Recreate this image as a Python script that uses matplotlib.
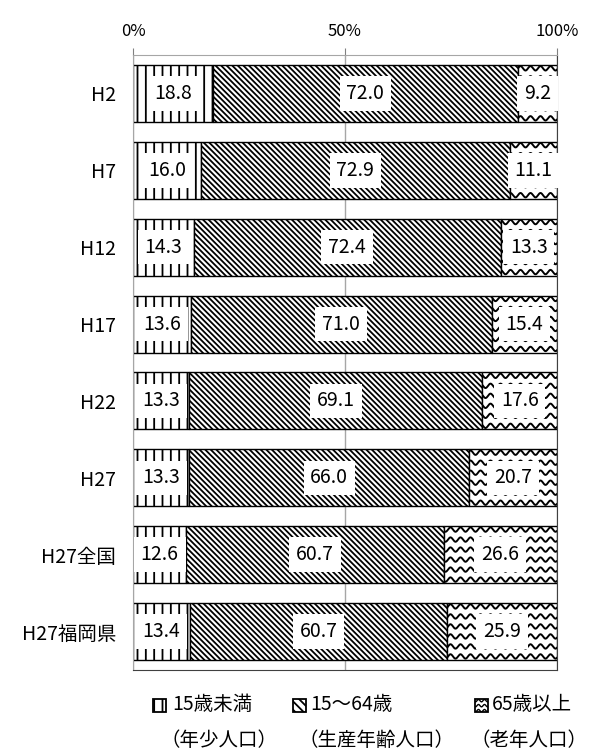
import numpy as np
import matplotlib
matplotlib.use("Agg")
import matplotlib.pyplot as plt
from matplotlib.patches import Rectangle

plt.rcParams['font.family'] = ['Noto Sans CJK JP', 'DejaVu Sans']
plt.rcParams['hatch.linewidth'] = 1.3
plt.rcParams['hatch.color'] = 'black'

# -------------------------------------------------
# DATA
# -------------------------------------------------

years = ["H2", "H7", "H12", "H17", "H22", "H27", "H27全国", "H27福岡県"]
young = [18.8, 16.0, 14.3, 13.6, 13.3, 13.3, 12.6, 13.4]
working = [72.0, 72.9, 72.4, 71.0, 69.1, 66.0, 60.7, 60.7]
elderly = [9.2, 11.1, 13.3, 15.4, 17.6, 20.7, 26.6, 25.9]

x_ticks = [0, 50, 100]
x_tick_labels = ["0%", "50%", "100%"]

legend_line1 = ["15歳未満", "15～64歳", "65歳以上"]
legend_line2 = ["（年少人口）", "（生産年齢人口）", "（老年人口）"]


def draw_waves(axis, rect, px_x, px_y, period=10, amp=2.2, gap=10, lw=1.4):
    # wavy hatch, clipped to the rectangle
    x0, y0 = rect.get_x(), rect.get_y()
    w, h = rect.get_width(), rect.get_height()
    xs = np.linspace(x0, x0 + w, 300)
    n_rows = int(abs(h) * px_y / gap) + 2
    for k in range(n_rows):
        yc = y0 + (k * gap + gap / 3) / px_y
        ys = yc + amp / px_y * np.sin(2 * np.pi * xs * px_x / period)
        line, = axis.plot(xs, ys, color='black', lw=lw, zorder=1.5)
        line.set_clip_path(rect)


# -------------------------------------------------
# FIGURE
# -------------------------------------------------

fig = plt.figure(figsize=(6.01, 7.49), dpi=100)
ax = fig.add_axes([133 / 601, 1 - 670 / 749, (557 - 133) / 601, (670 - 55) / 749])

y = np.arange(len(years))
left2 = np.array(young)
left3 = np.array(young) + np.array(working)
bar_h = 0.74

ax.set_xlim(0, 100)
ax.set_ylim(len(years) - 0.5, -0.5)

b1 = ax.barh(y, young, height=bar_h, color='white', edgecolor='black',
             hatch='||', lw=1, zorder=1)
b2 = ax.barh(y, working, left=left2, height=bar_h, color='white',
             edgecolor='black', hatch='\\\\\\\\\\\\', lw=1, zorder=1)
b3 = ax.barh(y, elderly, left=left3, height=bar_h, color='white',
             edgecolor='none', lw=1, zorder=1)

px_x = ax.bbox.width / 100
px_y = ax.bbox.height / len(years)
for r in b3:
    draw_waves(ax, r, px_x, px_y)
ax.barh(y, elderly, left=left3, height=bar_h, color='none',
        edgecolor='black', lw=1, zorder=1.8)

# value labels
for vals, lefts in [(young, np.zeros(len(years))), (working, left2), (elderly, left3)]:
    for i, v in enumerate(vals):
        ax.text(lefts[i] + v / 2, y[i], f"{v:.1f}", ha='center', va='center',
                fontsize=14, zorder=4,
                bbox=dict(boxstyle='square,pad=0.35', fc='white', ec='none'))

# axes
ax.xaxis.tick_top()
ax.set_xticks(x_ticks, x_tick_labels, fontsize=12)
ax.tick_params(axis='x', length=5, pad=6, color='#808080')
ax.set_yticks(y, years, fontsize=14)
ax.tick_params(axis='y', length=0, pad=12)
ax.grid(axis='x', color='#a6a6a6', lw=1)
ax.set_axisbelow(True)
ax.spines['top'].set_color('#a6a6a6')
ax.spines['left'].set_color('#a6a6a6')
ax.spines['right'].set_color('#404040')
ax.spines['bottom'].set_color('#404040')

# -------------------------------------------------
# LEGEND (pixel coords)
# -------------------------------------------------

lax = fig.add_axes([0, 0, 1, 80 / 749])
lax.set_xlim(0, 601)
lax.set_ylim(749, 669)
lax.axis('off')

marker_x = [153, 293, 475]
text_x = [172, 310, 492]
line2_x = [160, 298, 470]
hatches = ['||', '\\\\\\\\', None]

for k in range(3):
    m = Rectangle((marker_x[k], 699), 13, 13, facecolor='white',
                  edgecolor='black', lw=1.3, hatch=hatches[k])
    lax.add_patch(m)
    if hatches[k] is None:
        draw_waves(lax, m, 1, 1, period=6, amp=1.2, gap=5, lw=1)
    lax.text(text_x[k], 705, legend_line1[k], ha='left', va='center', fontsize=14)
    lax.text(line2_x[k], 740, legend_line2[k], ha='left', va='center', fontsize=14)

plt.savefig("out.png", dpi=100)
